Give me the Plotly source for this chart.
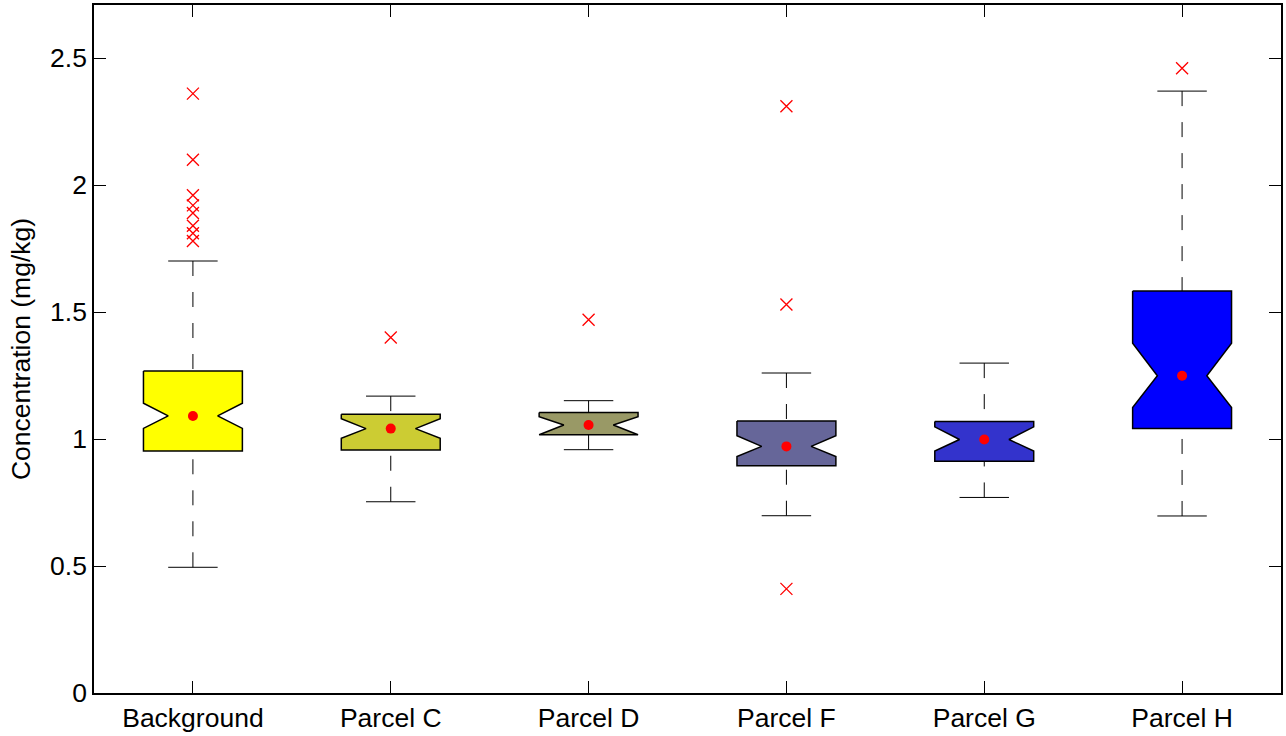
import plotly.graph_objects as go

categories = ["Background", "Parcel C", "Parcel D", "Parcel F", "Parcel G", "Parcel H"]
q1 = [0.953, 0.957, 1.017, 0.895, 0.913, 1.041]
q3 = [1.268, 1.098, 1.104, 1.071, 1.069, 1.583]
medians = [1.091, 1.041, 1.055, 0.971, 0.998, 1.249]
notch_lo = [1.042, 1.003, 1.017, 0.931, 0.953, 1.124]
notch_hi = [1.141, 1.080, 1.088, 1.013, 1.048, 1.377]
whisker_lo = [0.495, 0.753, 0.958, 0.698, 0.770, 0.697]
whisker_hi = [1.701, 1.169, 1.151, 1.260, 1.299, 2.370]
outliers = [
    [2.36, 2.10, 1.96, 1.92, 1.89, 1.84, 1.81, 1.78],
    [1.40],
    [1.47],
    [2.31, 1.53, 0.41],
    [],
    [2.46],
]
colors = ["#FFFF00", "#CCCC33", "#999966", "#666699", "#3333CC", "#0000FF"]

HALF = 0.25      # box half-width (axis units)
NOTCH = 0.125    # notch tip half-width
CAP = 0.125      # whisker cap half-width

fig = go.Figure()

for i, cat in enumerate(categories):
    x = i + 1
    # whiskers (dashed), drawn from cap toward box
    fig.add_trace(go.Scatter(
        x=[x, x], y=[whisker_lo[i], q1[i]], mode="lines",
        line=dict(color="black", width=1, dash="15px,16px"),
        hoverinfo="skip", showlegend=False))
    fig.add_trace(go.Scatter(
        x=[x, x], y=[whisker_hi[i], q3[i]], mode="lines",
        line=dict(color="black", width=1, dash="15px,16px"),
        hoverinfo="skip", showlegend=False))
    # caps
    fig.add_trace(go.Scatter(
        x=[x - CAP, x + CAP, None, x - CAP, x + CAP],
        y=[whisker_lo[i], whisker_lo[i], None, whisker_hi[i], whisker_hi[i]],
        mode="lines", line=dict(color="black", width=1),
        hoverinfo="skip", showlegend=False))
    # notched box polygon
    px = [x - HALF, x + HALF, x + HALF, x + NOTCH, x + HALF, x + HALF,
          x - HALF, x - HALF, x - NOTCH, x - HALF, x - HALF]
    py = [q3[i], q3[i], notch_hi[i], medians[i], notch_lo[i], q1[i],
          q1[i], notch_lo[i], medians[i], notch_hi[i], q3[i]]
    fig.add_trace(go.Scatter(
        x=px, y=py, mode="lines", fill="toself", fillcolor=colors[i],
        line=dict(color="black", width=1.5), name=cat,
        hoverinfo="skip", showlegend=False))
    # median dot
    fig.add_trace(go.Scatter(
        x=[x], y=[medians[i]], mode="markers",
        marker=dict(color="red", size=10),
        showlegend=False))
    # outliers
    if outliers[i]:
        fig.add_trace(go.Scatter(
            x=[x] * len(outliers[i]), y=outliers[i], mode="markers",
            marker=dict(symbol="x-thin", size=12, line=dict(color="red", width=1.3)),
            showlegend=False))

fig.update_layout(
    width=1286, height=736,
    margin=dict(l=94, r=5, t=5, b=43, autoexpand=False),
    plot_bgcolor="white", paper_bgcolor="white",
    font=dict(family="Liberation Sans, Arial, sans-serif", size=26.5, color="black"),
    showlegend=False,
)
fig.update_xaxes(
    range=[0.5, 6.5], tickvals=list(range(1, len(categories) + 1)), ticktext=categories,
    showgrid=False, zeroline=False, showline=True, linecolor="black", linewidth=1.5,
    mirror="ticks", ticks="inside", ticklen=12, tickcolor="black", tickwidth=1,
    automargin=False,
)
fig.update_yaxes(
    range=[0, 2.709], dtick=0.5, tick0=0,
    showgrid=False, zeroline=False, showline=True, linecolor="black", linewidth=1.5,
    mirror="ticks", ticks="inside", ticklen=12, tickcolor="black", tickwidth=1,
    title=dict(text="Concentration (mg/kg)", standoff=12, font=dict(size=26.5)),
    automargin=False,
)

fig.write_html("out.html", config={"displayModeBar": False},
               post_script="document.body.style.margin='0px';")
